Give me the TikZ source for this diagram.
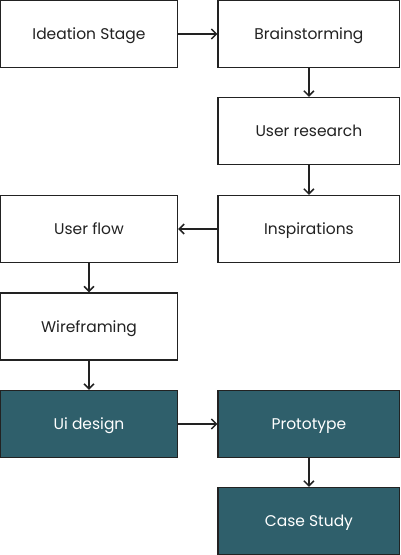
\documentclass[tikz,border=0pt]{standalone}
\usepackage{fontspec}
\setmainfont{Poppins}
\usetikzlibrary{arrows.meta}
\definecolor{teal}{HTML}{2F5F6B}
\definecolor{edge}{HTML}{222222}
\begin{document}
\begin{tikzpicture}[x=1pt,y=-1pt,
  box/.style={draw=edge,line width=1.3pt,fill=white,minimum width=177pt,minimum height=67pt,inner sep=0pt,text height=12pt,text depth=1pt,font=\fontsize{15.5}{18}\selectfont,text=edge},
  dark/.style={box,fill=teal,text=white},
  wide/.style={minimum width=181.6pt},
  conn/.style={draw=edge,line width=1.5pt,-{Straight Barb[length=5pt,width=10pt,line width=1.5pt]}}]
\useasboundingbox (0,0) rectangle (400,555);
\node[box] (ideation) at (89,34) {Ideation Stage};
\node[box,wide] (brain) at (308.9,34) {Brainstorming};
\node[box,wide] (research) at (308.9,131) {User research};
\node[box,wide] (insp) at (308.9,229) {Inspirations};
\node[box] (flow) at (89,229) {User flow};
\node[box] (wire) at (89,326.5) {Wireframing};
\node[dark] (ui) at (89,424) {Ui design};
\node[dark,wide] (proto) at (308.9,424) {Prototype};
\node[dark,wide] (case) at (308.9,521) {Case Study};
\draw[conn] (ideation) -- (brain);
\draw[conn] (brain) -- (research);
\draw[conn] (research) -- (insp);
\draw[conn] (insp) -- (flow);
\draw[conn] (flow) -- (wire);
\draw[conn] (wire) -- (ui);
\draw[conn] (ui) -- (proto);
\draw[conn] (proto) -- (case);
\end{tikzpicture}
\end{document}
